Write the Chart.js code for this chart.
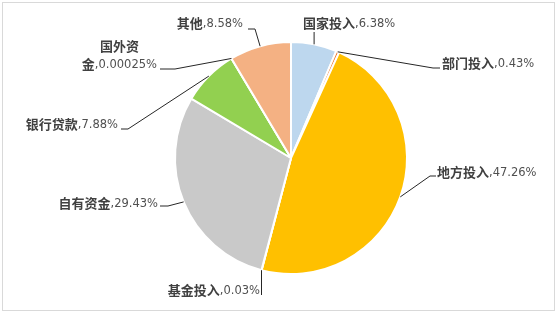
<!DOCTYPE html>
<html>
<head>
<meta charset="utf-8">
<script src="https://cdn.jsdelivr.net/npm/chart.js@4"></script>
<style>
  html, body { margin: 0; padding: 0; background: #fff; }
  #wrap { width: 558px; height: 313px; position: relative; }
</style>
</head>
<body>
<div id="wrap"><canvas id="pie"></canvas></div>
<script>
// data
const names = ['国家投入', '部门投入', '地方投入', '基金投入', '自有资金', '银行贷款', '国外资金', '其他'];
const shares = [6.38, 0.43, 47.26, 0.03, 29.43, 7.88, 0.00025, 8.58];
const colors = ['#BDD7EE', '#ED7D31', '#FFC000', '#5B9BD5', '#C9C9C9', '#92D050', '#A5A5A5', '#F4B183'];

// label placement, offsets from the pie centre (text anchor, leader end, elbow)
const labelPos = [
  {tx: 12,   ty: -135, align: 'left',  ax: 23,   ay: -126, ex: null},
  {tx: 151,  ty: -95,  align: 'left',  ax: 149,  ay: -90,  ex: 142},
  {tx: 146,  ty: 14,   align: 'left',  ax: 145,  ay: 18,   ex: 139},
  {tx: -31,  ty: 132,  align: 'right', ax: -29,  ay: 137,  ex: null},
  {tx: -133, ty: 45,   align: 'right', ax: -131, ay: 48,   ex: -123},
  {tx: -173, ty: -34,  align: 'right', ax: -170, ay: -29,  ex: -163},
  {tx: -134, ty: -94,  align: 'right', ax: -131, ay: -89,  ex: -116, wrap: 3},
  {tx: -48,  ty: -135, align: 'right', ax: -43,  ay: -129, ex: -36}
];

const nameFont = 'bold 13px "Noto Sans CJK SC", sans-serif';
const numFont = '11.5px "DejaVu Sans", sans-serif';

function drawLabel(ctx, head, tail, x, y, align) {
  ctx.font = nameFont;
  const w1 = ctx.measureText(head).width;
  ctx.font = numFont;
  const w2 = ctx.measureText(tail).width;
  let left = x;
  if (align == 'right') left = x - w1 - w2;
  if (align == 'center') left = x - (w1 + w2) / 2;
  ctx.textAlign = 'left';
  ctx.textBaseline = 'middle';
  ctx.font = nameFont;
  ctx.fillStyle = '#404040';
  ctx.fillText(head, left, y);
  ctx.font = numFont;
  ctx.fillStyle = '#505050';
  ctx.fillText(tail, left + w1, y + 1);
  return {left: left, width: w1 + w2};
}

const frame = {
  id: 'frame',
  beforeDraw(chart) {
    const ctx = chart.ctx;
    ctx.save();
    ctx.strokeStyle = '#D9D9D9';
    ctx.lineWidth = 1;
    ctx.strokeRect(2.5, 2.5, 552, 308);
    ctx.restore();
  }
};

const pieLabels = {
  id: 'pieLabels',
  afterDatasetsDraw(chart) {
    const ctx = chart.ctx;
    const arcs = chart.getDatasetMeta(0).data;
    ctx.save();
    arcs.forEach((arc, i) => {
      const p = labelPos[i];
      const cx = arc.x, cy = arc.y;
      const mid = (arc.startAngle + arc.endAngle) / 2;
      const sx = cx + Math.cos(mid) * arc.outerRadius;
      const sy = cy + Math.sin(mid) * arc.outerRadius;
      // leader line
      ctx.strokeStyle = '#262626';
      ctx.lineWidth = 1;
      ctx.beginPath();
      ctx.moveTo(sx, sy);
      if (p.ex != null) ctx.lineTo(cx + p.ex, cy + p.ay);
      else ctx.lineTo(sx, cy + p.ay);
      if (p.ex != null) ctx.lineTo(cx + p.ax, cy + p.ay);
      ctx.stroke();
      // text
      const val = ',' + shares[i] + '%';
      if (p.wrap) {
        const line2 = drawLabel(ctx, names[i].slice(p.wrap), val, cx + p.tx, cy + p.ty, p.align);
        drawLabel(ctx, names[i].slice(0, p.wrap), '', line2.left + line2.width / 2, cy + p.ty - 18, 'center');
      } else {
        drawLabel(ctx, names[i], val, cx + p.tx, cy + p.ty, p.align);
      }
    });
    ctx.restore();
  }
};

new Chart(document.getElementById('pie'), {
  type: 'pie',
  data: {
    labels: names,
    datasets: [{
      data: shares,
      backgroundColor: colors,
      borderColor: '#ffffff',
      borderWidth: 2
    }]
  },
  options: {
    responsive: true,
    maintainAspectRatio: false,
    animation: false,
    layout: { padding: { top: 41, bottom: 38, left: 128, right: 104 } },
    plugins: {
      legend: { display: false },
      tooltip: { enabled: false }
    }
  },
  plugins: [frame, pieLabels]
});
</script>
</body>
</html>
